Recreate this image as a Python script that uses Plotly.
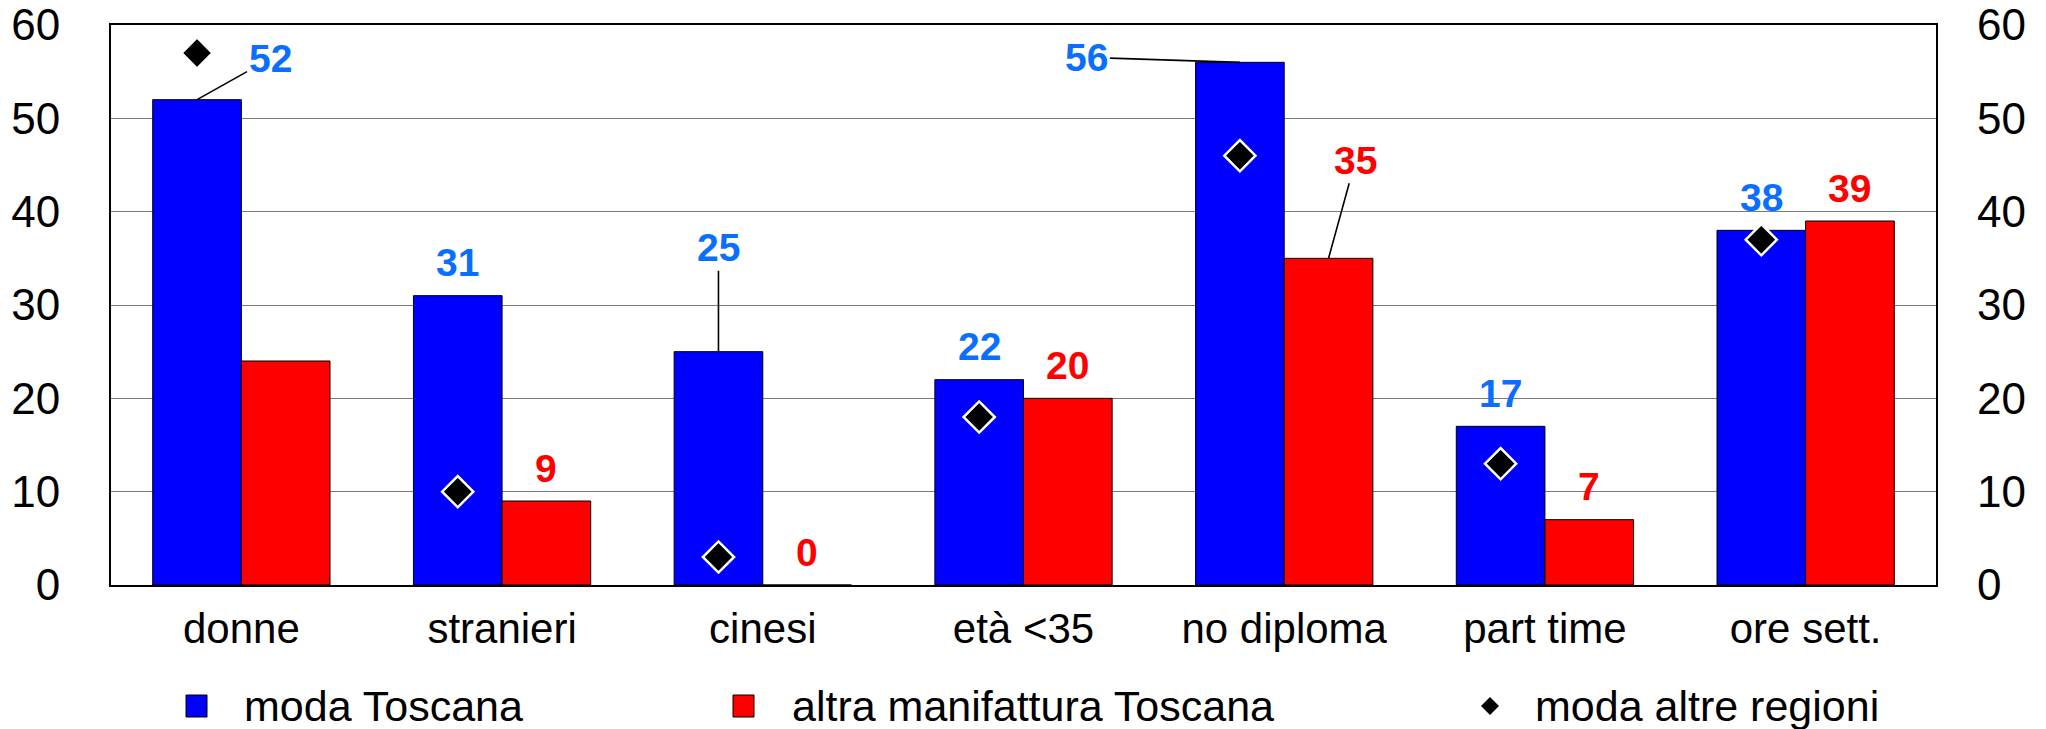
import plotly.graph_objects as go

categories = ["donne", "stranieri", "cinesi", "età <35", "no diploma", "part time", "ore sett."]
moda_toscana = [52, 31, 25, 22, 56, 17, 38]
altra_manifattura = [24, 9, 0, 20, 35, 7, 39]
moda_altre_regioni = [57, 10, 3, 18, 46, 13, 37]
series_names = ["moda Toscana", "altra manifattura Toscana", "moda altre regioni"]
y_ticks = [0, 10, 20, 30, 40, 50, 60]
# which red values carry a label
red_labelled = [False, True, True, True, True, True, True]

BLUE = "#0000FF"
RED = "#FF0000"
LBL_BLUE = "#0A6EFF"
LBL_RED = "#FF0000"
FONT = "Liberation Sans, Arial, sans-serif"

W, H = 2046, 729
ML, MR, MT, MB = 111, 110, 25, 144
PW, PH = W - ML - MR, H - MT - MB

bargap = 0.32
half = (1 - bargap) / 4  # offset of each bar centre from category centre
xs = list(range(len(categories)))

fig = go.Figure()
fig.add_trace(go.Bar(x=xs, y=moda_toscana, name=series_names[0],
                     marker=dict(color=BLUE, line=dict(color="black", width=1)),
                     showlegend=False))
fig.add_trace(go.Bar(x=xs, y=altra_manifattura, name=series_names[1],
                     marker=dict(color=RED, line=dict(color="black", width=1)),
                     showlegend=False))
fig.add_trace(go.Scatter(x=[i - half for i in xs], y=moda_altre_regioni, mode="markers",
                         name=series_names[2], yaxis="y2",
                         marker=dict(symbol="diamond", size=24, color="black",
                                     line=dict(color="white", width=2.5)),
                         showlegend=False))

annotations = []
lab_font = lambda c: dict(family=FONT, size=39, color=c)

# leader-line labels: (series, index) -> (ax, ay)
leaders = {(0, 0): (73, -41), (0, 2): (0, -104), (0, 4): (-153, -5), (1, 4): (27, -98)}

for s, (vals, col, off) in enumerate([(moda_toscana, LBL_BLUE, -half), (altra_manifattura, LBL_RED, half)]):
    for i, v in enumerate(vals):
        if s == 1 and not red_labelled[i]:
            continue
        if (s, i) in leaders:
            ax, ay = leaders[(s, i)]
            annotations.append(dict(x=i + off, y=v, xref="x", yref="y", text=f"<b>{v}</b>",
                                    showarrow=True, arrowhead=0, arrowwidth=1.6, arrowcolor="black",
                                    ax=ax, ay=ay, standoff=0, font=lab_font(col)))
        else:
            annotations.append(dict(x=i + off, y=v, xref="x", yref="y", text=f"<b>{v}</b>",
                                    showarrow=False, yshift=33, yanchor="middle",
                                    font=lab_font(col)))

# manual legend
def px_x(p):
    return (p - ML) / PW

def px_y(p):
    return (H - MB - p) / PH

leg_y = 706
shapes = []
for (sx, color) in [(186, BLUE), (733, RED)]:
    shapes.append(dict(type="rect", xref="paper", yref="paper",
                       x0=px_x(sx), x1=px_x(sx + 21), y0=px_y(leg_y + 11), y1=px_y(leg_y - 11),
                       fillcolor=color, line=dict(color="black", width=1)))
dx, dy = 9, 9
cx = 1490
shapes.append(dict(type="path", xref="paper", yref="paper",
                   path=f"M {px_x(cx - dx)} {px_y(leg_y)} L {px_x(cx)} {px_y(leg_y - dy)} "
                        f"L {px_x(cx + dx)} {px_y(leg_y)} L {px_x(cx)} {px_y(leg_y + dy)} Z",
                   fillcolor="black", line=dict(color="black", width=0)))
for tx, name in zip([242, 790, 1533], series_names):
    annotations.append(dict(x=px_x(tx), y=px_y(leg_y), xref="paper", yref="paper",
                            xanchor="left", yanchor="middle", showarrow=False, text=name,
                            font=dict(family=FONT, size=43, color="black")))

axis_font = dict(family=FONT, size=44, color="black")
fig.update_layout(
    template="none",
    width=W, height=H,
    margin=dict(l=ML, r=MR, t=MT, b=MB, autoexpand=False),
    paper_bgcolor="white", plot_bgcolor="white",
    barmode="group", bargap=bargap, bargroupgap=0,
    showlegend=False,
    font=dict(family=FONT, color="black"),
    xaxis=dict(tickmode="array", tickvals=xs, ticktext=categories, range=[-0.5, len(categories) - 0.5],
               showgrid=False, zeroline=False, showline=True, linecolor="black", linewidth=2,
               mirror=True, ticks="", tickfont=dict(family=FONT, size=42, color="black"),
               ticklabelstandoff=6, automargin=False),
    yaxis=dict(range=[0, 60], tickvals=y_ticks, showgrid=True, gridcolor="#7a7a7a", gridwidth=1,
               zeroline=False, showline=True, linecolor="black", linewidth=2, mirror=True,
               ticks="", tickfont=axis_font, ticklabelstandoff=40, automargin=False),
    yaxis2=dict(range=[0, 60], tickvals=y_ticks, overlaying="y", side="right", showgrid=False,
                zeroline=False, showline=False, ticks="", tickfont=axis_font, ticklabelstandoff=40,
                automargin=False),
    annotations=annotations,
    shapes=shapes,
)

fig.write_html("out.html", config={"displayModeBar": False},
               post_script="document.body.style.margin='0';document.body.style.overflow='hidden';")
